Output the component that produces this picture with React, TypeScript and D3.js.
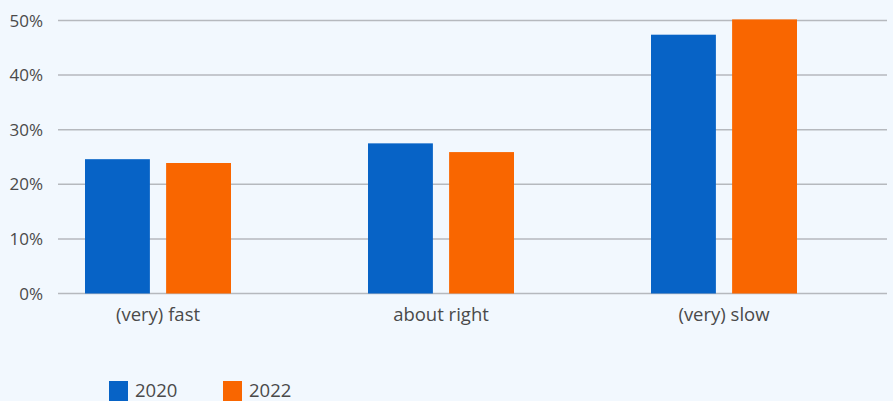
import React from "react";
import * as d3 from "d3";

const categories = ["(very) fast", "about right", "(very) slow"];
const seriesNames = ["2020", "2022"];
const values2020 = [24.6, 27.5, 47.4];
const values2022 = [23.9, 25.9, 50.2];
const yTicks = [0, 10, 20, 30, 40, 50];

const W = 893;
const H = 401;
const colors = ["#0763C6", "#F96600"];
const textColor = "#4a4a4a";
const font = "'Open Sans', sans-serif";

export default function App() {
  const x0 = d3.scaleBand<string>().domain(categories).range([16.5, 865.5]).paddingInner(0).paddingOuter(0);
  const groupW = 146;
  const x1 = d3.scaleBand<string>().domain(seriesNames).range([0, groupW]).paddingInner(0.2).paddingOuter(0);
  const y = d3.scaleLinear().domain([0, 50]).range([293.5, 20.5]);
  const series = [values2020, values2022];
  const gridX0 = 58;
  const gridX1 = 887;

  return (
    <svg width={W} height={H} style={{ position: "absolute", left: 0, top: 0 }} fontFamily={font}>
      <rect x={0} y={0} width={W} height={H} fill="#F2F8FE" />
      {yTicks.map((t) => (
        <g key={t}>
          <line x1={gridX0} x2={gridX1} y1={y(t)} y2={y(t)} stroke="#b6b9be" strokeWidth={1.5} />
          <text x={43} y={y(t)} dy="0.36em" textAnchor="end" fontSize={17} fill={textColor}>
            {t}%
          </text>
        </g>
      ))}
      {categories.map((c, i) => {
        const cx = (x0(c) as number) + x0.bandwidth() / 2;
        const gx = cx - groupW / 2;
        return (
          <g key={c}>
            {seriesNames.map((s, j) => (
              <rect
                key={s}
                x={gx + (x1(s) as number)}
                y={y(series[j][i])}
                width={x1.bandwidth()}
                height={y(0) - y(series[j][i])}
                fill={colors[j]}
              />
            ))}
            <text x={cx} y={321} textAnchor="middle" fontSize={18.5} fill={textColor}>
              {c}
            </text>
          </g>
        );
      })}
      {seriesNames.map((s, j) => {
        const lx = 109 + j * 114;
        return (
          <g key={s}>
            <rect x={lx} y={381} width={19} height={20} fill={colors[j]} />
            <text x={lx + 26} y={397} fontSize={18.5} fill={textColor}>
              {s}
            </text>
          </g>
        );
      })}
    </svg>
  );
}
